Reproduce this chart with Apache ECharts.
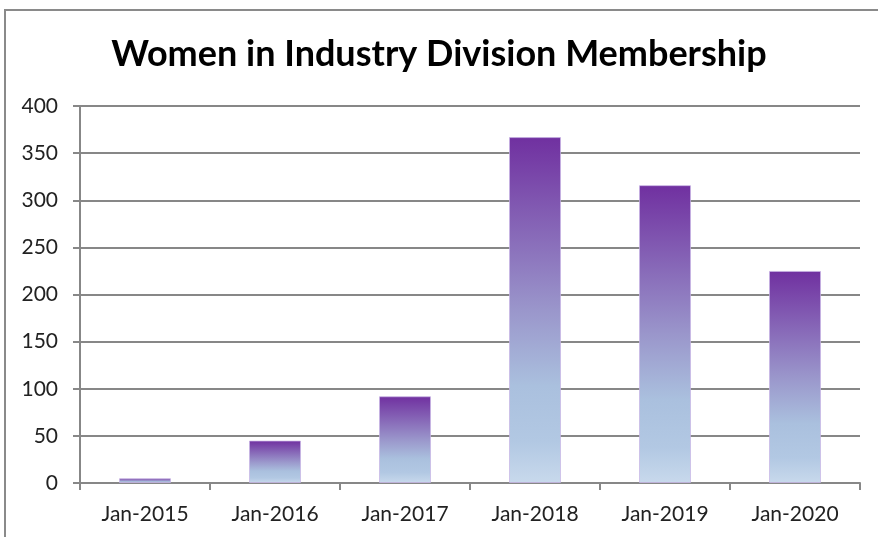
<!DOCTYPE html>
<html>
<head>
<meta charset="utf-8">
<script src="https://cdn.jsdelivr.net/npm/echarts@6/dist/echarts.min.js"></script>
<style>
  html, body { margin: 0; padding: 0; background: #fff; }
  #chart { width: 878px; height: 537px; }
</style>
</head>
<body>
<div id="chart"></div>
<script>
// values
var categories = ["Jan-2015", "Jan-2016", "Jan-2017", "Jan-2018", "Jan-2019", "Jan-2020"];
var members = [5, 45, 92, 367, 316, 225];
var yTicks = [0, 50, 100, 150, 200, 250, 300, 350, 400];

var myChart = echarts.init(document.getElementById("chart"));
var gridColor = "#878787";

// bar fill: purple at the top fading to pale blue at the base
var barFill = new echarts.graphic.LinearGradient(0, 0, 0, 1, [
  { offset: 0, color: "#7030a0" },
  { offset: 0.5, color: "#9a96cb" },
  { offset: 0.72, color: "#aac0de" },
  { offset: 0.88, color: "#b2c8e3" },
  { offset: 1, color: "#c8d9ec" },
]);

myChart.setOption({
  animation: false,
  textStyle: { fontFamily: "Lato" },
  title: {
    text: "Women in Industry Division Membership",
    left: "center",
    top: 31,
    textStyle: {
      fontFamily: "Lato",
      fontWeight: "bold",
      fontSize: 36,
      color: "#000",
    },
  },
  graphic: [
    {
      type: "rect",
      shape: { x: 5, y: 10, width: 900, height: 600 },
      style: { fill: "none", stroke: "#8a8a8a", lineWidth: 2 },
      silent: true,
    },
  ],
  grid: { left: 80, right: 18, top: 106, bottom: 54 },
  xAxis: {
    type: "category",
    data: categories,
    axisLine: { lineStyle: { color: gridColor, width: 2 } },
    axisTick: { show: true, length: 7, lineStyle: { color: gridColor, width: 2 } },
    axisLabel: { color: "#222", fontSize: 21, margin: 21 },
  },
  yAxis: {
    type: "value",
    min: yTicks[0],
    max: yTicks[yTicks.length - 1],
    interval: yTicks[1] - yTicks[0],
    axisLine: { show: true, lineStyle: { color: gridColor, width: 2 } },
    axisTick: { show: true, length: 7, lineStyle: { color: gridColor, width: 2 } },
    splitLine: { lineStyle: { color: gridColor, width: 2 } },
    axisLabel: { color: "#222", fontSize: 21, margin: 22 },
  },
  series: [
    {
      type: "bar",
      data: members,
      barWidth: "40%",
      itemStyle: {
        color: barFill,
        borderColor: "rgba(200,180,230,0.7)",
        borderWidth: 1,
      },
    },
  ],
});
</script>
</body>
</html>
